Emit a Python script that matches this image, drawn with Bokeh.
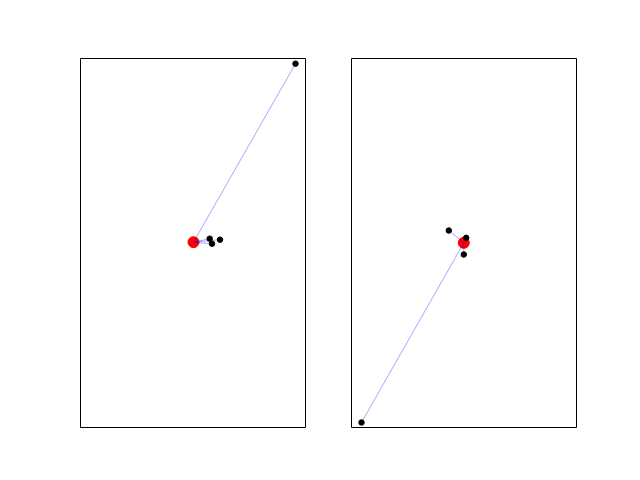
from bokeh.plotting import figure
from bokeh.layouts import row
from bokeh.models import Range1d
from bokeh.embed import file_html
from bokeh.resources import INLINE

# Left panel
left_center_x = [0.0]
left_center_y = [0.0]
left_x = [10.2, 1.62, 1.85, 2.65]
left_y = [17.85, 0.35, -0.15, 0.25]

# Right panel
right_center_x = [0.0]
right_center_y = [0.0]
right_x = [-10.23, -1.5, 0.24, 0.0]
right_y = [-17.97, 1.23, 0.5, -1.17]


def make_panel(cx, cy, xs, ys, xr, yr, width, bl, br):
    p = figure(width=width, height=467, output_backend="svg", toolbar_location=None,
               x_range=Range1d(*xr), y_range=Range1d(*yr),
               min_border_left=bl, min_border_right=br, min_border_top=58, min_border_bottom=40)
    p.xaxis.visible = False
    p.yaxis.visible = False
    p.grid.visible = False
    p.outline_line_color = "black"
    p.outline_line_width = 1
    p.outline_line_alpha = 1
    p.background_fill_color = "white"
    p.border_fill_color = "white"
    p.scatter(cx, cy, size=11, color="red")
    xs_lines = [[cx[0], x] for x in xs]
    ys_lines = [[cy[0], y] for y in ys]
    p.multi_line(xs_lines, ys_lines, line_color="blue", line_alpha=0.35, line_width=1)
    p.scatter(xs, ys, size=5.5, color="black")
    return p


p1 = make_panel(left_center_x, left_center_y, left_x, left_y,
                (-11.3, 11.2), (-18.53, 18.37), 336, 80, 31)
p2 = make_panel(right_center_x, right_center_y, right_x, right_y,
                (-11.23, 11.27), (-18.47, 18.43), 300, 15, 60)

layout = row(p1, p2, spacing=0)
open("out.html", "w").write(file_html(layout, INLINE))
